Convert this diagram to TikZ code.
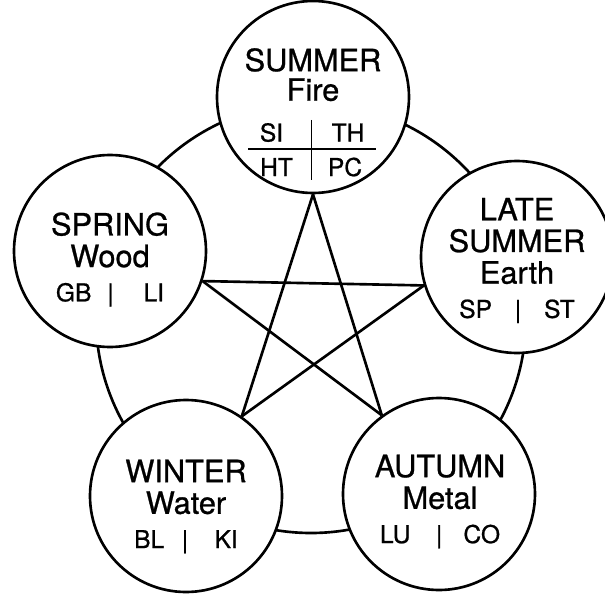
\documentclass[tikz,border=0pt]{standalone}
\usepackage{fontspec}
\setmainfont{TeX Gyre Heros}[FakeBold=0.8]
\usepackage{tikz}
\usetikzlibrary{calc}

\begin{document}
\begin{tikzpicture}[
  season/.style={draw, circle, line width=1.5pt, fill=white, minimum size=3.84cm, inner sep=0pt},
  elem/.style={align=center, font=\fontsize{17.5}{18}\selectfont, inner sep=0pt},
  organ/.style={font=\fontsize{14}{16}\selectfont, inner sep=0pt},
  ring/.style={line width=1.5pt},
  star/.style={line width=1.5pt},
  grid/.style={line width=0.9pt}
]
  \useasboundingbox (-6.22,-5.50) rectangle (5.88,6.36);

  % outer cycle through the five seasons
  \draw[ring] (0,0) circle (4.3);

  % the five seasons
  \node[season] (summer) at (0.04, 4.42) {};
  \node[season] (spring) at (-4.02, 1.34) {};
  \node[season] (late) at (4.12, 1.22) {};
  \node[season] (winter) at (-2.50, -3.56) {};
  \node[season] (autumn) at (2.56, -3.52) {};

  % SUMMER with its four organs
  \node[elem, anchor=south] (summertext) at ($(summer)+(0,-0.09)$) {SUMMER\\[-1.2pt]Fire};
  \node[organ, anchor=base] (si) at ($(summer)+(-0.83,-0.89)$) {SI};
  \node[organ, anchor=base] (th) at ($(summer)+(0.70,-0.89)$) {TH};
  \node[organ, anchor=base] (ht) at ($(summer)+(-0.73,-1.58)$) {HT};
  \node[organ, anchor=base] (pc) at ($(summer)+(0.64,-1.58)$) {PC};
  \draw[grid] ($(summer)+(-1.30,-1.04)$) -- ($(summer)+(1.26,-1.04)$);
  \draw[grid] ($(summer)+(-0.03,-0.46)$) -- ($(summer)+(-0.03,-1.66)$);

  % the other seasons
  \node[elem] (springtext) at ($(spring)+(0,-0.17)$) {SPRING\\Wood\\[1.5pt]\fontsize{14}{16}\selectfont GB\hspace{9pt}|\hspace{17pt}LI};
  \node[elem] (latetext) at ($(late)+(0,-0.07)$) {LATE\\SUMMER\\Earth\\[1.5pt]\fontsize{14}{16}\selectfont SP\hspace{13pt}|\hspace{13pt}ST};
  \node[elem] (wintertext) at ($(winter)+(0,-0.21)$) {WINTER\\Water\\[1.5pt]\fontsize{14}{16}\selectfont BL\hspace{10pt}|\hspace{15pt}KI};
  \node[elem] (autumntext) at ($(autumn)+(0.02,-0.15)$) {AUTUMN\\Metal\\[1.5pt]\fontsize{14}{16}\selectfont LU\hspace{14.5pt}|\hspace{12pt}CO};

  % the star inside
  \draw[star] (summer.-90) -- (winter.55);
  \draw[star] (winter.55) -- (late.197);
  \draw[star] (late.197) -- (spring.-18);
  \draw[star] (spring.-18) -- (autumn.126);
  \draw[star] (autumn.126) -- (summer.-90);

\end{tikzpicture}
\end{document}
